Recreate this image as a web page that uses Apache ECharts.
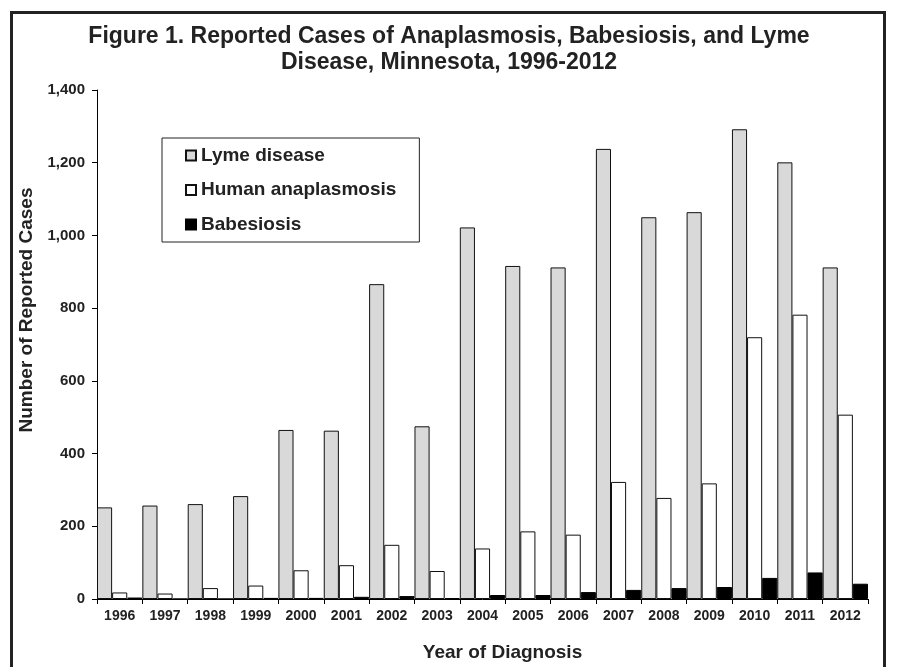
<!DOCTYPE html>
<html>
<head>
<meta charset="utf-8">
<script src="https://cdn.jsdelivr.net/npm/echarts@6/dist/echarts.min.js"></script>
<style>
html,body{margin:0;padding:0;background:#fff;}
#chart{width:898px;height:667px;}
</style>
</head>
<body>
<div id="chart"></div>
<script>
var years = ['1996','1997','1998','1999','2000','2001','2002','2003','2004','2005','2006','2007','2008','2009','2010','2011','2012'];
var lymeDisease = [252, 257, 261, 283, 465, 463, 866, 475, 1022, 916, 912, 1238, 1050, 1064, 1292, 1201, 912];
var humanAnaplasmosis = [18, 15, 30, 37, 79, 93, 149, 77, 139, 186, 177, 322, 278, 318, 720, 782, 507];
var babesiosis = [4, 0, 0, 3, 3, 6, 8, 2, 11, 11, 19, 25, 30, 33, 58, 73, 42];
var seriesNames = ['Lyme disease', 'Human anaplasmosis', 'Babesiosis'];
var titleText = 'Figure 1. Reported Cases of Anaplasmosis, Babesiosis, and Lyme\nDisease, Minnesota, 1996-2012';

var FONT = '"Liberation Sans", Arial, Helvetica, sans-serif';
var chart = echarts.init(document.getElementById('chart'), null, {renderer: 'canvas'});
var option = {
  backgroundColor: '#ffffff',
  animation: false,
  textStyle: {fontFamily: FONT},
  title: {
    text: titleText,
    left: 'center',
    top: 24,
    padding: 0,
    textStyle: {fontFamily: FONT, fontSize: 23, fontWeight: 'bold', color: '#222', lineHeight: 26}
  },
  graphic: [{
    type: 'rect',
    shape: {x: 11.5, y: 12.5, width: 873, height: 700},
    style: {fill: null, stroke: '#222', lineWidth: 3},
    silent: true, z: 100
  }],
  legend: {
    orient: 'vertical',
    left: 162,
    top: 138,
    padding: [8, 23, 8, 23],
    itemGap: 15.5,
    itemWidth: 10,
    itemHeight: 10,
    borderColor: '#222',
    borderWidth: 1,
    backgroundColor: '#fff',
    icon: 'rect',
    textStyle: {fontFamily: FONT, fontSize: 19, fontWeight: 'bold', color: '#222', lineHeight: 19},
    data: seriesNames
  },
  grid: {left: 97, right: 30, top: 90, bottom: 68, containLabel: false},
  xAxis: {
    type: 'category',
    data: years,
    boundaryGap: true,
    name: 'Year of Diagnosis',
    nameLocation: 'middle',
    nameGap: 44,
    nameTextStyle: {fontFamily: FONT, fontSize: 19, fontWeight: 'bold', color: '#222', padding: [0, 0, 0, 40]},
    axisLine: {lineStyle: {color: '#000', width: 1}},
    axisTick: {show: true, interval: 0, length: 5, lineStyle: {color: '#000'}},
    axisLabel: {interval: 0, margin: 10, fontFamily: FONT, fontSize: 14, fontWeight: 'bold', color: '#222'},
    splitLine: {show: false}
  },
  yAxis: {
    type: 'value',
    min: 0,
    max: 1400,
    interval: 200,
    name: 'Number of Reported Cases',
    nameLocation: 'middle',
    nameGap: 57,
    nameRotate: 90,
    nameTextStyle: {fontFamily: FONT, fontSize: 19, fontWeight: 'bold', color: '#222', padding: [0, 0, 0, 69]},
    axisLine: {show: true, lineStyle: {color: '#000', width: 1}},
    axisTick: {show: true, length: 5, lineStyle: {color: '#000'}},
    axisLabel: {
      margin: 12, fontFamily: FONT, fontSize: 15, fontWeight: 'bold', color: '#222',
      formatter: function (v) { return v.toLocaleString('en-US'); }
    },
    splitLine: {show: false}
  },
  series: [
    {
      name: seriesNames[0], type: 'bar', data: lymeDisease,
      barGap: '0%', barCategoryGap: '0%',
      itemStyle: {color: '#d9d9d9', borderColor: '#111', borderWidth: 1}
    },
    {
      name: seriesNames[1], type: 'bar', data: humanAnaplasmosis,
      barGap: '0%', barCategoryGap: '0%',
      itemStyle: {color: '#ffffff', borderColor: '#111', borderWidth: 1}
    },
    {
      name: seriesNames[2], type: 'bar', data: babesiosis,
      barGap: '0%', barCategoryGap: '0%',
      itemStyle: {color: '#000000', borderColor: '#000', borderWidth: 1}
    }
  ]
};
chart.setOption(option);
</script>
</body>
</html>
